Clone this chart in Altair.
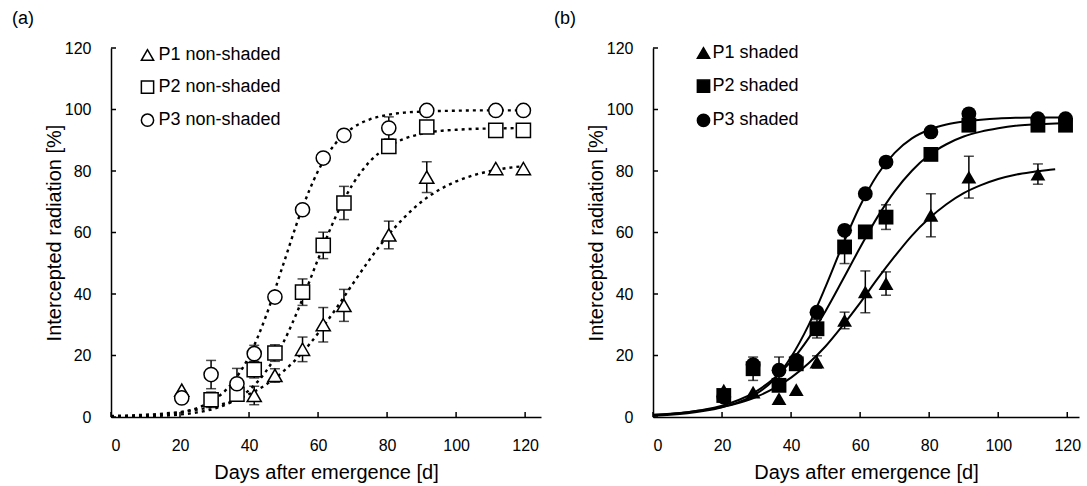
import altair as alt
import pandas as pd

FONT = "Liberation Sans"

# ---------------- data ----------------
days = [20.5, 29, 36.5, 41.5, 47.5, 55.5, 61.5, 67.5, 80.5, 91.5, 111.5, 119.5]

# panel (a): non-shaded
a_names = ["P1 non-shaded", "P2 non-shaded", "P3 non-shaded"]
a_p1 = [8.7, None, None, 7.0, 13.5, 22.0, 30.0, 36.3, 59.2, 78.0, 80.8, 80.8]
a_p1_err = [0, 0, 0, 3.0, 2.2, 4.0, 5.6, 5.2, 4.5, 5.0, 0, 0]
a_p2 = [None, 5.6, 7.4, 15.4, 20.8, 40.6, 55.8, 69.6, 88.0, 94.3, 93.2, 93.2]
a_p2_err = [0, 2.5, 0, 2.7, 2.7, 4.3, 4.3, 5.4, 2.2, 0, 0, 0]
a_p3 = [6.2, 13.8, 10.8, 20.6, 39.0, 67.4, 84.2, 91.6, 94.0, 99.7, 99.7, 99.7]
a_p3_err = [0, 4.6, 5.0, 2.7, 0, 0, 0, 0, 3.6, 0, 0, 0]

# panel (b): shaded
b_names = ["P1 shaded", "P2 shaded", "P3 shaded"]
b_p1 = [8.7, 8.1, 6.0, 8.9, 17.9, 31.4, 40.7, 43.4, 65.6, 78.0, 79.0, None]
b_p1_err = [0, 0, 0, 0, 2.0, 2.7, 6.8, 3.8, 7.0, 6.8, 3.3, 0]
b_p2 = [7.0, 15.7, 10.3, 17.3, 28.7, 55.3, 60.2, 65.0, 85.4, 94.9, 94.9, 94.9]
b_p2_err = [0, 3.8, 0, 0, 3.0, 5.4, 0, 4.0, 0, 0, 0, 0]
b_p3 = [6.5, 17.0, 15.2, 18.4, 34.1, 60.7, 72.6, 82.9, 92.7, 98.6, 97.0, 97.0]
b_p3_err = [0, 0, 4.3, 0, 0, 0, 0, 0, 0, 0, 1.5, 0]

# fitted curves
curve_days = [0, 5, 10, 15, 20, 25, 30, 35, 40, 45, 50, 55, 60,
              65, 70, 75, 80, 85, 90, 95, 100, 105, 110, 115, 120]
curve_days_b1 = [0, 5, 10, 15, 20, 25, 30, 35, 40, 45, 50, 55, 60,
                 65, 70, 75, 80, 85, 90, 95, 100, 105, 110, 115, 116.5]
a_curve_p1 = [0.33, 0.49, 0.73, 1.09, 1.61, 2.39, 3.52, 5.13, 7.42, 10.6, 14.9, 20.4, 27.2,
              34.9, 43.2, 51.3, 58.7, 64.9, 70.0, 73.8, 76.6, 78.6, 80.0, 81.0, 81.6]
a_curve_p2 = [0.07, 0.13, 0.24, 0.44, 0.81, 1.50, 2.73, 4.95, 8.74, 15.0, 24.4, 37.0, 51.3,
              64.9, 75.6, 83.1, 87.7, 90.5, 92.1, 93.0, 93.4, 93.7, 93.8, 93.9, 94.0]
a_curve_p3 = [0.09, 0.18, 0.37, 0.74, 1.47, 2.92, 5.72, 10.9, 19.7, 33.1, 49.9, 66.6, 80.0,
              88.9, 94.0, 96.8, 98.2, 99.0, 99.3, 99.5, 99.6, 99.7, 99.7, 99.7, 99.7]
b_curve_p1 = [0.75, 1.09, 1.56, 2.26, 3.24, 4.66, 6.58, 9.27, 12.8, 17.4, 23.0, 29.8, 37.1,
              44.9, 52.2, 59.0, 64.6, 69.2, 72.8, 75.4, 77.4, 78.8, 79.7, 80.4, 80.6]
b_curve_p2 = [0.66, 1.01, 1.57, 2.41, 3.69, 5.61, 8.44, 12.5, 18.1, 25.5, 34.5, 44.7, 55.1,
              65.0, 73.4, 80.1, 85.2, 88.7, 91.2, 92.8, 93.9, 94.7, 95.1, 95.4, 95.6]
b_curve_p3 = [0.4, 0.7, 1.2, 2.0, 3.2, 4.9, 7.6, 12.1, 19.5, 29.7, 42.4, 56.1, 68.7,
              78.8, 85.9, 90.6, 93.4, 95.1, 96.1, 96.7, 97.1, 97.3, 97.4, 97.4, 97.5]

tick_values = [0, 20, 40, 60, 80, 100, 120]
shapes = ["triangle-up", "square", "circle"]

W_A, W_B, H = 430, 426, 369


def build_panel(label, names, vals, errs, curves, filled, xmax, width,
                leg_x, leg_y, leg_row_pad, leg_offset, dashed):
    pts, ebs, crv = [], [], []
    for name, v_list, e_list in zip(names, vals, errs):
        for d, v, e in zip(days, v_list, e_list):
            if v is None:
                continue
            pts.append({"series": name, "day": d, "val": v})
            if e:
                ebs.append({"series": name, "day": d, "lo": v - e, "hi": v + e})
    for name, (cd, cv) in zip(names, curves):
        for d, v in zip(cd, cv):
            crv.append({"series": name, "day": d, "val": v})
    pts = pd.DataFrame(pts)
    ebs = pd.DataFrame(ebs)
    crv = pd.DataFrame(crv)
    ticks = pd.DataFrame({"t": tick_values})

    xs = alt.Scale(domain=[0, xmax], nice=False, zero=False)
    ys = alt.Scale(domain=[0, 120], nice=False, zero=False)
    xaxis = alt.Axis(values=tick_values, title="Days after emergence [d]", ticks=False,
                     labelPadding=20, titlePadding=9, grid=False)
    yaxis = alt.Axis(values=tick_values, title="Intercepted radiation [%]", ticks=False,
                     labelPadding=20, titlePadding=0, grid=False)
    X = lambda f: alt.X(f, type="quantitative", scale=xs, axis=xaxis)
    Y = lambda f: alt.Y(f, type="quantitative", scale=ys, axis=yaxis)

    line_kw = dict(color="black", strokeWidth=2.0, interpolate="monotone")
    if dashed:
        line_kw.update(strokeDash=[3, 4], strokeWidth=2.4)
    lines = alt.Chart(crv).mark_line(**line_kw).encode(
        x=X("day"), y=Y("val"), detail="series:N")

    bars = alt.Chart(ebs).mark_rule(color="black", strokeWidth=1.5).encode(
        x=X("day"), y=Y("lo"), y2="hi")
    cap_lo = alt.Chart(ebs).mark_tick(color="black", orient="horizontal", size=10,
                                      thickness=1.5).encode(x=X("day"), y=Y("lo"))
    cap_hi = alt.Chart(ebs).mark_tick(color="black", orient="horizontal", size=10,
                                      thickness=1.5).encode(x=X("day"), y=Y("hi"))

    fill = "black" if filled else "white"
    legend = alt.Legend(orient="none", legendX=leg_x, legendY=leg_y,
                        title=None, labelFont=FONT, labelFontSize=18,
                        labelColor="black", symbolSize=150,
                        symbolFillColor=fill, symbolStrokeColor="black",
                        symbolStrokeWidth=1.5, symbolOpacity=1,
                        rowPadding=leg_row_pad, labelOffset=leg_offset,
                        padding=0)
    if filled:
        pmark = alt.Chart(pts).mark_point(filled=True, size=220, opacity=1)
    else:
        pmark = alt.Chart(pts).mark_point(filled=False, fill="white", fillOpacity=1,
                                          strokeWidth=1.5, size=200, opacity=1)
    points = pmark.encode(
        x=X("day"), y=Y("val"),
        shape=alt.Shape("series:N", scale=alt.Scale(domain=names, range=shapes),
                        legend=legend),
        color=alt.Color("series:N",
                        scale=alt.Scale(domain=names, range=["black", "black", "black"]),
                        legend=legend))

    ytick = alt.Chart(ticks).mark_rule(color="black", strokeWidth=1.5).encode(
        y=Y("t"), x=alt.value(0), x2=alt.value(5))
    xtick = alt.Chart(ticks).mark_rule(color="black", strokeWidth=1.5).encode(
        x=X("t"), y=alt.value(H), y2=alt.value(H - 5))

    return alt.layer(lines, bars, cap_lo, cap_hi, points, ytick, xtick).properties(
        width=width, height=H,
        title=alt.TitleParams(label, anchor="start", frame="group", dx=-99,
                              fontSize=18, font=FONT, fontWeight="normal",
                              color="black", offset=12))


panel_a = build_panel("(a)", a_names, [a_p1, a_p2, a_p3], [a_p1_err, a_p2_err, a_p3_err],
                      [(curve_days, a_curve_p1), (curve_days, a_curve_p2),
                       (curve_days, a_curve_p3)],
                      filled=False, xmax=124.6, width=W_A, leg_x=27.5, leg_y=-2,
                      leg_row_pad=13.1, leg_offset=2, dashed=True)
panel_b = build_panel("(b)", b_names, [b_p1, b_p2, b_p3], [b_p1_err, b_p2_err, b_p3_err],
                      [(curve_days_b1, b_curve_p1), (curve_days, b_curve_p2),
                       (curve_days, b_curve_p3)],
                      filled=True, xmax=123.4, width=W_B, leg_x=41.5, leg_y=-4,
                      leg_row_pad=14.2, leg_offset=0, dashed=False)

chart = alt.hconcat(panel_a, panel_b, spacing=13).resolve_scale(
    shape="independent", color="independent", x="independent", y="independent"
).resolve_legend(shape="independent", color="independent").properties(
    padding={"left": 12, "top": 10, "right": 5, "bottom": 5},
    background="white"
).configure_view(stroke=None).configure_axis(
    labelFont=FONT, labelFontSize=16, labelColor="black",
    titleFont=FONT, titleFontSize=20, titleFontWeight="normal", titleColor="black",
    domainColor="black", domainWidth=1.5
)

chart.save("out.html", embed_options={"renderer": "svg", "actions": False})
